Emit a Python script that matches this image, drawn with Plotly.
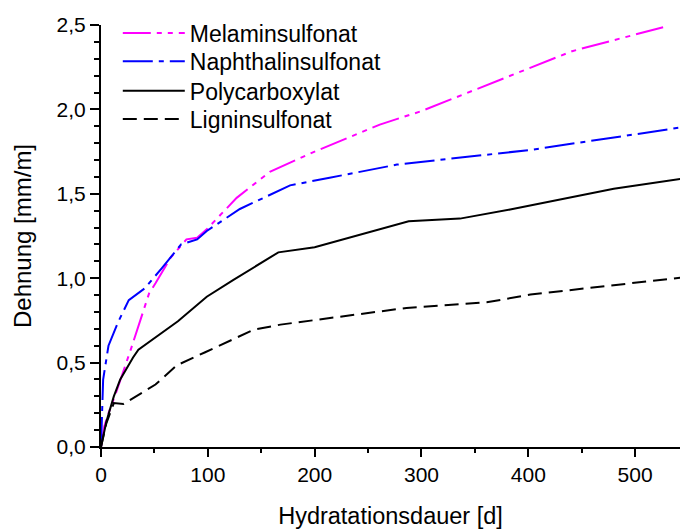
import plotly.graph_objects as go

# Melaminsulfonat
mel_x = [0, 3, 7, 14, 28, 45, 51, 65, 80, 90, 99, 127, 158, 200, 261, 300, 441, 528]
mel_y = [0.0, 0.12, 0.2, 0.32, 0.58, 0.91, 0.97, 1.12, 1.23, 1.24, 1.29, 1.476, 1.63, 1.75, 1.91, 1.99, 2.345, 2.49]

# Naphthalinsulfonat
nap_x = [0, 1, 2, 7, 16, 26, 41, 57, 75, 90, 99, 130, 177, 214, 277, 402, 545]
nap_y = [0.0, 0.18, 0.4, 0.6, 0.74, 0.87, 0.94, 1.06, 1.2, 1.23, 1.28, 1.41, 1.55, 1.595, 1.673, 1.76, 1.895]

# Polycarboxylat
poly_x = [0, 5, 12, 18, 30, 35, 72, 99, 124, 166, 200, 224, 288, 336, 383, 480, 545]
poly_y = [0.0, 0.15, 0.3, 0.4, 0.53, 0.577, 0.745, 0.89, 0.99, 1.153, 1.183, 1.225, 1.337, 1.353, 1.407, 1.53, 1.59]

# Ligninsulfonat
lig_x = [0, 5, 12, 21, 51, 71, 97, 143, 168, 224, 286, 361, 402, 545]
lig_y = [0.0, 0.14, 0.26, 0.255, 0.37, 0.484, 0.56, 0.695, 0.725, 0.774, 0.824, 0.857, 0.903, 1.005]

names = ["Melaminsulfonat", "Naphthalinsulfonat", "Polycarboxylat", "Ligninsulfonat"]

FONT = "Liberation Sans, Arial, sans-serif"
LEG_FS = 23

fig = go.Figure()
fig.add_trace(go.Scatter(x=mel_x, y=mel_y, mode="lines", name=names[0], legend="legend",
                         line=dict(color="#FF00FF", width=2, dash="28px,6px,5px,6px,5px,6px")))
fig.add_trace(go.Scatter(x=nap_x, y=nap_y, mode="lines", name=names[1], legend="legend2",
                         line=dict(color="#0000FF", width=2, dash="30px,6px,5px,6px")))
fig.add_trace(go.Scatter(x=poly_x, y=poly_y, mode="lines", name=names[2], legend="legend3",
                         line=dict(color="#000000", width=2)))
fig.add_trace(go.Scatter(x=lig_x, y=lig_y, mode="lines", name=names[3], legend="legend4",
                         line=dict(color="#000000", width=2, dash="14px,7px")))

def leg(y):
    return dict(x=0.029, y=y, xanchor="left", yanchor="top",
                bgcolor="rgba(0,0,0,0)", font=dict(size=LEG_FS, family=FONT, color="black"),
                itemwidth=62)

fig.update_layout(
    width=680, height=529,
    margin=dict(l=101, r=0, t=25, b=82),
    paper_bgcolor="white", plot_bgcolor="white",
    separators=",.",
    font=dict(family=FONT, size=21, color="black"),
    showlegend=True,
    legend=leg(1.032),
    legend2=leg(0.965),
    legend3=leg(0.895),
    legend4=leg(0.828),
    xaxis=dict(range=[0, 542], showgrid=False, zeroline=False,
               showline=True, linecolor="black", linewidth=2,
               ticks="outside", ticklen=8, tickwidth=1.5, tickcolor="black",
               dtick=100, tick0=0,
               minor=dict(ticks="outside", ticklen=4, tickwidth=1.5, tickcolor="black", dtick=50),
               title=dict(text="Hydratationsdauer [d]", font=dict(size=23.5), standoff=25),
               tickfont=dict(size=21)),
    yaxis=dict(range=[0, 2.5], showgrid=False, zeroline=False,
               showline=True, linecolor="black", linewidth=2,
               ticks="outside", ticklen=9, tickwidth=1.5, tickcolor="black",
               dtick=0.5, tick0=0, tickformat=".1f",
               minor=dict(ticks="outside", ticklen=5, tickwidth=1.5, tickcolor="black", dtick=0.1),
               title=dict(text="Dehnung [mm/m]", font=dict(size=24), standoff=18),
               tickfont=dict(size=21)),
)

fig.write_html("out.html")
